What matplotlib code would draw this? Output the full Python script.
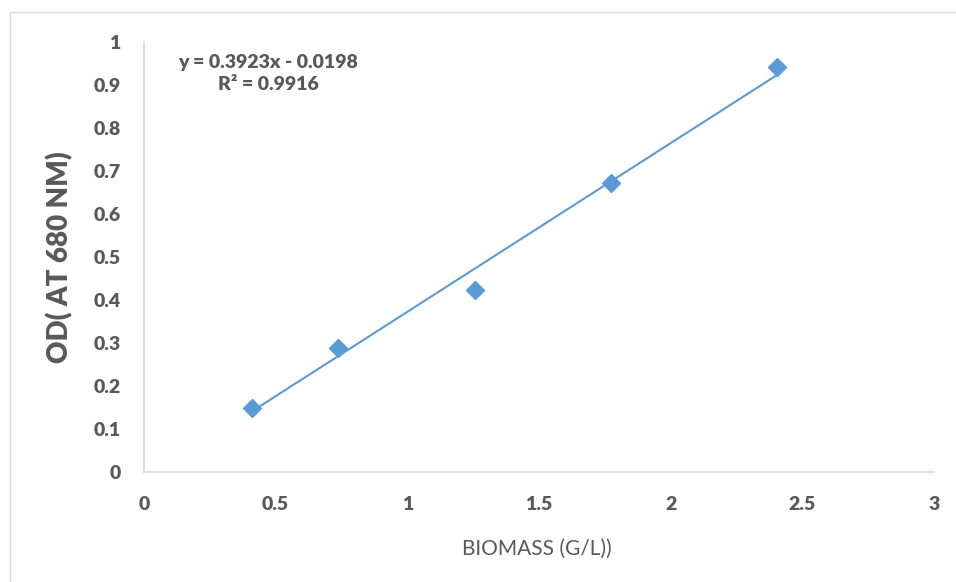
import numpy as np
import matplotlib.pyplot as plt
import matplotlib.patches as patches

biomass = [0.41, 0.737, 1.257, 1.774, 2.404]
od = [0.149, 0.288, 0.423, 0.672, 0.942]
slope = 0.3923
intercept = -0.0198
r2 = 0.9916

grey = '#595959'
blue = '#5B9BD5'

plt.rcParams['font.family'] = ['Lato', 'DejaVu Sans']

fig = plt.figure(figsize=(9.56, 5.82), dpi=100)
# outer chart border (only top/left visible in the picture)
fig.patches.append(patches.Rectangle((10/956, -0.1), 1.2, 1 - 12/582 + 0.1,
                                     transform=fig.transFigure, fill=False,
                                     edgecolor='#D9D9D9', linewidth=1))
ax = fig.add_axes([144/956, 1 - 472/582, 790/956, 430/582])

xs = np.array([min(biomass), max(biomass)])
ax.plot(xs, slope * xs + intercept, color=blue, linewidth=1.5, zorder=2)
ax.plot(biomass, od, 'D', color=blue, markersize=9, zorder=3)

ax.set_xlim(0, 3)
ax.set_ylim(0, 1)
ax.set_xticks(np.arange(0, 3.01, 0.5))
ax.set_xticklabels(['0', '0.5', '1', '1.5', '2', '2.5', '3'])
ax.set_yticks(np.arange(0, 1.01, 0.1))
ax.set_yticklabels(['0', '0.1', '0.2', '0.3', '0.4', '0.5', '0.6', '0.7', '0.8', '0.9', '1'])

for s in ['top', 'right']:
    ax.spines[s].set_visible(False)
for s in ['left', 'bottom']:
    ax.spines[s].set_color('#D9D9D9')
    ax.spines[s].set_linewidth(1.2)

ax.tick_params(axis='both', length=0, colors=grey, labelsize=14)
ax.tick_params(axis='y', pad=17)
ax.tick_params(axis='x', pad=17)
for lab in ax.get_xticklabels() + ax.get_yticklabels():
    lab.set_fontweight('heavy')

ax.set_xlabel('BIOMASS (G/L))', color=grey, fontsize=15)
ax.xaxis.set_label_coords(0.497, -0.155)
ax.set_ylabel('OD( AT 680 NM)', color=grey, fontsize=20, fontweight='heavy')
ax.yaxis.set_label_coords(-0.09, 0.5)

ax.text(0.157, 0.927, 'y = 0.3923x - 0.0198\nR² = 0.9916', transform=ax.transAxes,
        ha='center', va='center', color=grey, fontsize=14, fontweight='heavy',
        linespacing=1.4)

plt.savefig('out.png', dpi=100)
